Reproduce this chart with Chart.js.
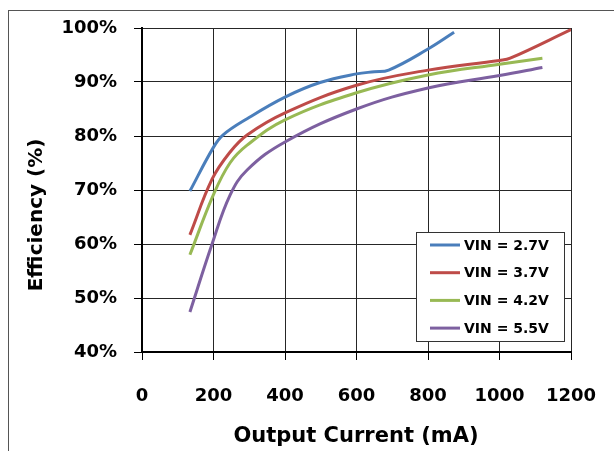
<!DOCTYPE html>
<html>
<head>
<meta charset="utf-8">
<title>Efficiency vs Output Current</title>
<script src="https://cdn.jsdelivr.net/npm/chart.js"></script>
<style>
  html, body { margin: 0; padding: 0; background: #fff; }
  #wrap { width: 614px; height: 451px; }
</style>
</head>
<body>
<div id="wrap"><canvas id="grafica"></canvas></div>
<script>
// Output current (mA) and efficiency (%)
const current27 = [134, 199, 227, 294, 400, 498, 600, 650, 690, 800, 873];
const eff27     = [69.8, 77.8, 80.2, 83.2, 87.2, 89.9, 91.5, 91.9, 92.2, 96.1, 99.2];

const current37 = [134, 196, 246, 294, 400, 600, 800, 1000, 1030, 1200];
const eff37     = [61.7, 72.0, 77.0, 80.2, 84.3, 89.4, 92.2, 94.0, 94.4, 99.7];

const current42 = [134, 199, 246, 294, 400, 600, 800, 1000, 1120];
const eff42     = [58.0, 69.0, 75.0, 78.3, 83.0, 88.0, 91.3, 93.3, 94.4];

const current55 = [134, 196, 246, 294, 400, 600, 800, 1000, 1120];
const eff55     = [47.4, 60.0, 69.0, 73.7, 78.9, 85.0, 88.9, 91.2, 92.7];

const seriesNames = ['VIN = 2.7V', 'VIN = 3.7V', 'VIN = 4.2V', 'VIN = 5.5V'];
const colores = ['#4A7EBB', '#BE4B48', '#98B954', '#7D60A0'];

const xTitle = 'Output Current (mA)';
const yTitle = 'Efficiency (%)';

function puntos(xs, ys) {
    return xs.map((x, i) => ({ x: x, y: ys[i] }));
}

const datos = {
    datasets: [
        { label: seriesNames[0], data: puntos(current27, eff27), borderColor: colores[0] },
        { label: seriesNames[1], data: puntos(current37, eff37), borderColor: colores[1] },
        { label: seriesNames[2], data: puntos(current42, eff42), borderColor: colores[2] },
        { label: seriesNames[3], data: puntos(current55, eff55), borderColor: colores[3] }
    ].map(d => Object.assign(d, {
        borderWidth: 3,
        pointRadius: 0,
        fill: false,
        tension: 0.4
    }))
};

// frame, axis titles and legend box drawn on top of the canvas
const decoracion = {
    id: 'decoracion',
    beforeDraw(chart) {
        const ctx = chart.ctx;
        ctx.save();
        ctx.fillStyle = '#fff';
        ctx.fillRect(0, 0, chart.width, chart.height);
        ctx.strokeStyle = '#555';
        ctx.lineWidth = 1;
        ctx.strokeRect(8.5, 10.5, chart.width, chart.height);
        ctx.restore();
    },
    afterDraw(chart) {
        const ctx = chart.ctx;
        ctx.save();
        ctx.fillStyle = '#000';
        ctx.textAlign = 'center';
        ctx.textBaseline = 'middle';

        ctx.font = "bold 21px 'DejaVu Sans'";
        ctx.fillText(xTitle, 356, 437);

        ctx.translate(37, 215);
        ctx.rotate(-Math.PI / 2);
        ctx.font = "bold 20px 'DejaVu Sans'";
        ctx.fillText(yTitle, 0, 0);
        ctx.restore();

        // legend
        ctx.save();
        ctx.fillStyle = '#fff';
        ctx.fillRect(416, 232, 148, 109);
        ctx.strokeStyle = '#333';
        ctx.lineWidth = 1;
        ctx.strokeRect(416.5, 232.5, 148, 109);
        ctx.font = "bold 14px 'DejaVu Sans'";
        ctx.textAlign = 'left';
        ctx.textBaseline = 'middle';
        chart.data.datasets.forEach((ds, i) => {
            const y = 245 + i * 27.7;
            ctx.strokeStyle = ds.borderColor;
            ctx.lineWidth = 3;
            ctx.beginPath();
            ctx.moveTo(430, y);
            ctx.lineTo(460, y);
            ctx.stroke();
            ctx.fillStyle = '#000';
            ctx.fillText(ds.label, 464, y + 1);
        });
        ctx.restore();
    }
};

const config = {
    type: 'line',
    data: datos,
    options: {
        responsive: true,
        maintainAspectRatio: false,
        animation: false,
        layout: { padding: { left: 0, top: 28, right: 43, bottom: 0 } },
        plugins: {
            legend: { display: false },
            tooltip: { enabled: false }
        },
        scales: {
            x: {
                type: 'linear',
                min: 0,
                max: 1200,
                afterFit(scale) {
                    scale.height = 99;
                    scale.paddingLeft = 0;
                    scale.paddingRight = 0;
                },
                ticks: {
                    stepSize: 200,
                    padding: 26,
                    color: '#000',
                    font: { family: 'DejaVu Sans', size: 18, weight: 'bold' },
                    callback: v => String(v)
                },
                grid: { color: '#262626', lineWidth: 1, tickLength: 8, tickColor: '#000' },
                border: { color: '#000', width: 2 }
            },
            y: {
                min: 40,
                max: 100,
                afterFit(scale) {
                    scale.width = 142;
                    scale.paddingTop = 0;
                    scale.paddingBottom = 0;
                },
                ticks: {
                    stepSize: 10,
                    padding: 17,
                    color: '#000',
                    font: { family: 'DejaVu Sans', size: 18, weight: 'bold' },
                    callback: v => v + '%'
                },
                grid: { color: '#262626', lineWidth: 1, tickLength: 8, tickColor: '#000' },
                border: { color: '#000', width: 2 }
            }
        }
    },
    plugins: [decoracion]
};

const grafica = new Chart(document.getElementById('grafica'), config);
</script>
</body>
</html>
